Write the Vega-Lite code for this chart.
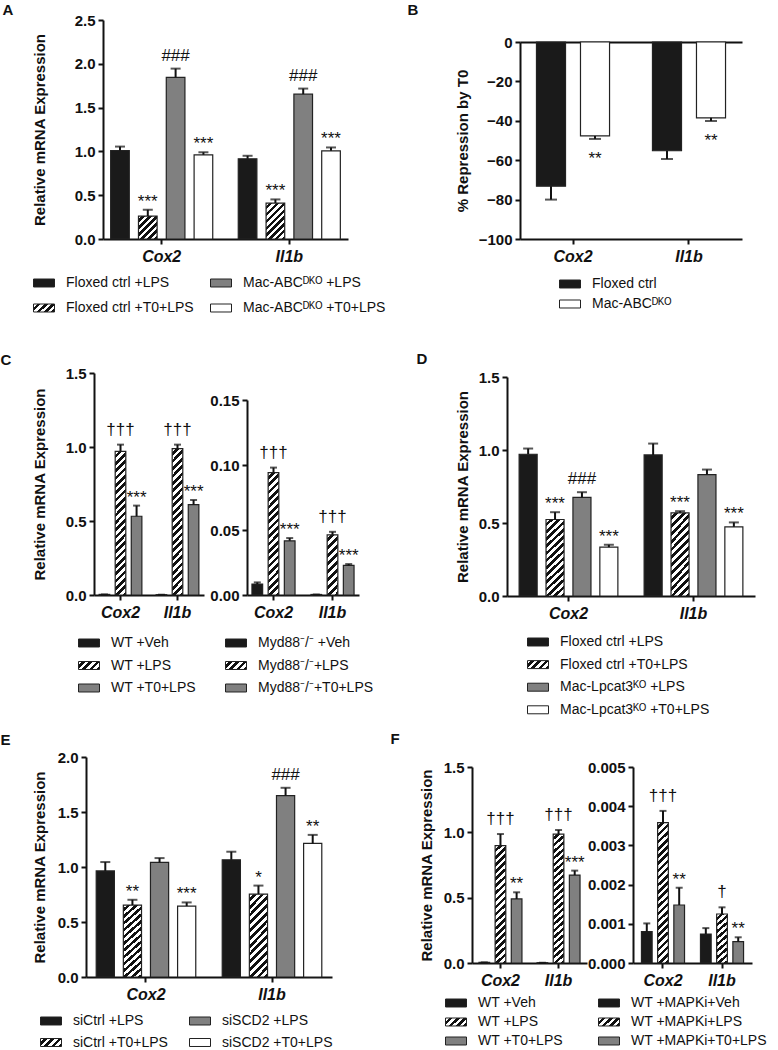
{
"$schema": "https://vega.github.io/schema/vega-lite/v6.json",
"width": 778, "height": 1050, "autosize": "none", "padding": 0, "background": "white",
"params": [
{"name":"G7","value":{"gradient":"linear","x1":0,"y1":0,"x2":1.206,"y2":0.459,"stops":[
{"offset":0.125,"color":"#fff"},{"offset":0.125,"color":"#111"},{"offset":0.25,"color":"#111"},{"offset":0.25,"color":"#fff"},
{"offset":0.375,"color":"#fff"},{"offset":0.375,"color":"#111"},{"offset":0.5,"color":"#111"},{"offset":0.5,"color":"#fff"},
{"offset":0.625,"color":"#fff"},{"offset":0.625,"color":"#111"},{"offset":0.75,"color":"#111"},{"offset":0.75,"color":"#fff"},
{"offset":0.875,"color":"#fff"},{"offset":0.875,"color":"#111"}]}},
{"name":"G1","value":{"gradient":"linear","x1":0,"y1":0,"x2":0.885,"y2":1.094,"stops":[
{"offset":0.0833,"color":"#fff"},{"offset":0.0833,"color":"#111"},{"offset":0.1667,"color":"#111"},{"offset":0.1667,"color":"#fff"},
{"offset":0.25,"color":"#fff"},{"offset":0.25,"color":"#111"},{"offset":0.3333,"color":"#111"},{"offset":0.3333,"color":"#fff"},
{"offset":0.4167,"color":"#fff"},{"offset":0.4167,"color":"#111"},{"offset":0.5,"color":"#111"},{"offset":0.5,"color":"#fff"},
{"offset":0.5833,"color":"#fff"},{"offset":0.5833,"color":"#111"},{"offset":0.6667,"color":"#111"},{"offset":0.6667,"color":"#fff"},
{"offset":0.75,"color":"#fff"},{"offset":0.75,"color":"#111"},{"offset":0.8333,"color":"#111"},{"offset":0.8333,"color":"#fff"},
{"offset":0.9167,"color":"#fff"},{"offset":0.9167,"color":"#111"}]}},
{"name":"G2","value":{"gradient":"linear","x1":0,"y1":0,"x2":0.619,"y2":1.197,"stops":[
{"offset":0.0625,"color":"#fff"},{"offset":0.0625,"color":"#111"},{"offset":0.125,"color":"#111"},{"offset":0.125,"color":"#fff"},
{"offset":0.1875,"color":"#fff"},{"offset":0.1875,"color":"#111"},{"offset":0.25,"color":"#111"},{"offset":0.25,"color":"#fff"},
{"offset":0.3125,"color":"#fff"},{"offset":0.3125,"color":"#111"},{"offset":0.375,"color":"#111"},{"offset":0.375,"color":"#fff"},
{"offset":0.4375,"color":"#fff"},{"offset":0.4375,"color":"#111"},{"offset":0.5,"color":"#111"},{"offset":0.5,"color":"#fff"},
{"offset":0.5625,"color":"#fff"},{"offset":0.5625,"color":"#111"},{"offset":0.625,"color":"#111"},{"offset":0.625,"color":"#fff"},
{"offset":0.6875,"color":"#fff"},{"offset":0.6875,"color":"#111"},{"offset":0.75,"color":"#111"},{"offset":0.75,"color":"#fff"},
{"offset":0.8125,"color":"#fff"},{"offset":0.8125,"color":"#111"},{"offset":0.875,"color":"#111"},{"offset":0.875,"color":"#fff"},
{"offset":0.9375,"color":"#fff"},{"offset":0.9375,"color":"#111"}]}},
{"name":"G5","value":{"gradient":"linear","x1":0,"y1":0,"x2":0.218,"y2":1.149,"stops":[
{"offset":0.0556,"color":"#fff"},{"offset":0.0556,"color":"#111"},{"offset":0.1111,"color":"#111"},{"offset":0.1111,"color":"#fff"},
{"offset":0.1667,"color":"#fff"},{"offset":0.1667,"color":"#111"},{"offset":0.2222,"color":"#111"},{"offset":0.2222,"color":"#fff"},
{"offset":0.2778,"color":"#fff"},{"offset":0.2778,"color":"#111"},{"offset":0.3333,"color":"#111"},{"offset":0.3333,"color":"#fff"},
{"offset":0.3889,"color":"#fff"},{"offset":0.3889,"color":"#111"},{"offset":0.4444,"color":"#111"},{"offset":0.4444,"color":"#fff"},
{"offset":0.5,"color":"#fff"},{"offset":0.5,"color":"#111"},{"offset":0.5556,"color":"#111"},{"offset":0.5556,"color":"#fff"},
{"offset":0.6111,"color":"#fff"},{"offset":0.6111,"color":"#111"},{"offset":0.6667,"color":"#111"},{"offset":0.6667,"color":"#fff"},
{"offset":0.7222,"color":"#fff"},{"offset":0.7222,"color":"#111"},{"offset":0.7778,"color":"#111"},{"offset":0.7778,"color":"#fff"},
{"offset":0.8333,"color":"#fff"},{"offset":0.8333,"color":"#111"},{"offset":0.8889,"color":"#111"},{"offset":0.8889,"color":"#fff"},
{"offset":0.9444,"color":"#fff"},{"offset":0.9444,"color":"#111"}]}},
{"name":"G6","value":{"gradient":"linear","x1":0,"y1":0,"x2":0.261,"y2":1.166,"stops":[
{"offset":0.0385,"color":"#fff"},{"offset":0.0385,"color":"#111"},{"offset":0.0769,"color":"#111"},{"offset":0.0769,"color":"#fff"},
{"offset":0.1154,"color":"#fff"},{"offset":0.1154,"color":"#111"},{"offset":0.1538,"color":"#111"},{"offset":0.1538,"color":"#fff"},
{"offset":0.1923,"color":"#fff"},{"offset":0.1923,"color":"#111"},{"offset":0.2308,"color":"#111"},{"offset":0.2308,"color":"#fff"},
{"offset":0.2692,"color":"#fff"},{"offset":0.2692,"color":"#111"},{"offset":0.3077,"color":"#111"},{"offset":0.3077,"color":"#fff"},
{"offset":0.3462,"color":"#fff"},{"offset":0.3462,"color":"#111"},{"offset":0.3846,"color":"#111"},{"offset":0.3846,"color":"#fff"},
{"offset":0.4231,"color":"#fff"},{"offset":0.4231,"color":"#111"},{"offset":0.4615,"color":"#111"},{"offset":0.4615,"color":"#fff"},
{"offset":0.5,"color":"#fff"},{"offset":0.5,"color":"#111"},{"offset":0.5385,"color":"#111"},{"offset":0.5385,"color":"#fff"},
{"offset":0.5769,"color":"#fff"},{"offset":0.5769,"color":"#111"},{"offset":0.6154,"color":"#111"},{"offset":0.6154,"color":"#fff"},
{"offset":0.6538,"color":"#fff"},{"offset":0.6538,"color":"#111"},{"offset":0.6923,"color":"#111"},{"offset":0.6923,"color":"#fff"},
{"offset":0.7308,"color":"#fff"},{"offset":0.7308,"color":"#111"},{"offset":0.7692,"color":"#111"},{"offset":0.7692,"color":"#fff"},
{"offset":0.8077,"color":"#fff"},{"offset":0.8077,"color":"#111"},{"offset":0.8462,"color":"#111"},{"offset":0.8462,"color":"#fff"},
{"offset":0.8846,"color":"#fff"},{"offset":0.8846,"color":"#111"},{"offset":0.9231,"color":"#111"},{"offset":0.9231,"color":"#fff"},
{"offset":0.9615,"color":"#fff"},{"offset":0.9615,"color":"#111"}]}},
{"name":"G4","value":{"gradient":"linear","x1":0,"y1":0,"x2":0.095,"y2":1.08,"stops":[
{"offset":0.0278,"color":"#fff"},{"offset":0.0278,"color":"#111"},{"offset":0.0556,"color":"#111"},{"offset":0.0556,"color":"#fff"},
{"offset":0.0833,"color":"#fff"},{"offset":0.0833,"color":"#111"},{"offset":0.1111,"color":"#111"},{"offset":0.1111,"color":"#fff"},
{"offset":0.1389,"color":"#fff"},{"offset":0.1389,"color":"#111"},{"offset":0.1667,"color":"#111"},{"offset":0.1667,"color":"#fff"},
{"offset":0.1944,"color":"#fff"},{"offset":0.1944,"color":"#111"},{"offset":0.2222,"color":"#111"},{"offset":0.2222,"color":"#fff"},
{"offset":0.25,"color":"#fff"},{"offset":0.25,"color":"#111"},{"offset":0.2778,"color":"#111"},{"offset":0.2778,"color":"#fff"},
{"offset":0.3056,"color":"#fff"},{"offset":0.3056,"color":"#111"},{"offset":0.3333,"color":"#111"},{"offset":0.3333,"color":"#fff"},
{"offset":0.3611,"color":"#fff"},{"offset":0.3611,"color":"#111"},{"offset":0.3889,"color":"#111"},{"offset":0.3889,"color":"#fff"},
{"offset":0.4167,"color":"#fff"},{"offset":0.4167,"color":"#111"},{"offset":0.4444,"color":"#111"},{"offset":0.4444,"color":"#fff"},
{"offset":0.4722,"color":"#fff"},{"offset":0.4722,"color":"#111"},{"offset":0.5,"color":"#111"},{"offset":0.5,"color":"#fff"},
{"offset":0.5278,"color":"#fff"},{"offset":0.5278,"color":"#111"},{"offset":0.5556,"color":"#111"},{"offset":0.5556,"color":"#fff"},
{"offset":0.5833,"color":"#fff"},{"offset":0.5833,"color":"#111"},{"offset":0.6111,"color":"#111"},{"offset":0.6111,"color":"#fff"},
{"offset":0.6389,"color":"#fff"},{"offset":0.6389,"color":"#111"},{"offset":0.6667,"color":"#111"},{"offset":0.6667,"color":"#fff"},
{"offset":0.6944,"color":"#fff"},{"offset":0.6944,"color":"#111"},{"offset":0.7222,"color":"#111"},{"offset":0.7222,"color":"#fff"},
{"offset":0.75,"color":"#fff"},{"offset":0.75,"color":"#111"},{"offset":0.7778,"color":"#111"},{"offset":0.7778,"color":"#fff"},
{"offset":0.8056,"color":"#fff"},{"offset":0.8056,"color":"#111"},{"offset":0.8333,"color":"#111"},{"offset":0.8333,"color":"#fff"},
{"offset":0.8611,"color":"#fff"},{"offset":0.8611,"color":"#111"},{"offset":0.8889,"color":"#111"},{"offset":0.8889,"color":"#fff"},
{"offset":0.9167,"color":"#fff"},{"offset":0.9167,"color":"#111"},{"offset":0.9444,"color":"#111"},{"offset":0.9444,"color":"#fff"},
{"offset":0.9722,"color":"#fff"},{"offset":0.9722,"color":"#111"}]}},
{"name":"G3","value":{"gradient":"linear","x1":0,"y1":0,"x2":0.08,"y2":1.069,"stops":[
{"offset":0.0238,"color":"#fff"},{"offset":0.0238,"color":"#111"},{"offset":0.0476,"color":"#111"},{"offset":0.0476,"color":"#fff"},
{"offset":0.0714,"color":"#fff"},{"offset":0.0714,"color":"#111"},{"offset":0.0952,"color":"#111"},{"offset":0.0952,"color":"#fff"},
{"offset":0.119,"color":"#fff"},{"offset":0.119,"color":"#111"},{"offset":0.1429,"color":"#111"},{"offset":0.1429,"color":"#fff"},
{"offset":0.1667,"color":"#fff"},{"offset":0.1667,"color":"#111"},{"offset":0.1905,"color":"#111"},{"offset":0.1905,"color":"#fff"},
{"offset":0.2143,"color":"#fff"},{"offset":0.2143,"color":"#111"},{"offset":0.2381,"color":"#111"},{"offset":0.2381,"color":"#fff"},
{"offset":0.2619,"color":"#fff"},{"offset":0.2619,"color":"#111"},{"offset":0.2857,"color":"#111"},{"offset":0.2857,"color":"#fff"},
{"offset":0.3095,"color":"#fff"},{"offset":0.3095,"color":"#111"},{"offset":0.3333,"color":"#111"},{"offset":0.3333,"color":"#fff"},
{"offset":0.3571,"color":"#fff"},{"offset":0.3571,"color":"#111"},{"offset":0.381,"color":"#111"},{"offset":0.381,"color":"#fff"},
{"offset":0.4048,"color":"#fff"},{"offset":0.4048,"color":"#111"},{"offset":0.4286,"color":"#111"},{"offset":0.4286,"color":"#fff"},
{"offset":0.4524,"color":"#fff"},{"offset":0.4524,"color":"#111"},{"offset":0.4762,"color":"#111"},{"offset":0.4762,"color":"#fff"},
{"offset":0.5,"color":"#fff"},{"offset":0.5,"color":"#111"},{"offset":0.5238,"color":"#111"},{"offset":0.5238,"color":"#fff"},
{"offset":0.5476,"color":"#fff"},{"offset":0.5476,"color":"#111"},{"offset":0.5714,"color":"#111"},{"offset":0.5714,"color":"#fff"},
{"offset":0.5952,"color":"#fff"},{"offset":0.5952,"color":"#111"},{"offset":0.619,"color":"#111"},{"offset":0.619,"color":"#fff"},
{"offset":0.6429,"color":"#fff"},{"offset":0.6429,"color":"#111"},{"offset":0.6667,"color":"#111"},{"offset":0.6667,"color":"#fff"},
{"offset":0.6905,"color":"#fff"},{"offset":0.6905,"color":"#111"},{"offset":0.7143,"color":"#111"},{"offset":0.7143,"color":"#fff"},
{"offset":0.7381,"color":"#fff"},{"offset":0.7381,"color":"#111"},{"offset":0.7619,"color":"#111"},{"offset":0.7619,"color":"#fff"},
{"offset":0.7857,"color":"#fff"},{"offset":0.7857,"color":"#111"},{"offset":0.8095,"color":"#111"},{"offset":0.8095,"color":"#fff"},
{"offset":0.8333,"color":"#fff"},{"offset":0.8333,"color":"#111"},{"offset":0.8571,"color":"#111"},{"offset":0.8571,"color":"#fff"},
{"offset":0.881,"color":"#fff"},{"offset":0.881,"color":"#111"},{"offset":0.9048,"color":"#111"},{"offset":0.9048,"color":"#fff"},
{"offset":0.9286,"color":"#fff"},{"offset":0.9286,"color":"#111"},{"offset":0.9524,"color":"#111"},{"offset":0.9524,"color":"#fff"},
{"offset":0.9762,"color":"#fff"},{"offset":0.9762,"color":"#111"}]}}
],
"config": {
  "view": {"stroke": null},
  "font": "Liberation Sans",
  "axis": {"domainColor": "#111", "domainWidth": 2, "tickColor": "#111", "tickWidth": 2, "tickSize": 5, "labelFont": "Liberation Sans", "labelFontSize": 15, "labelFontWeight": "bold", "labelColor": "#111", "titleFont": "Liberation Sans", "titleFontSize": 15, "titleFontWeight": "bold", "titleColor": "#111", "grid": false, "labelPadding": 3},
  "axisX": {"labelFontStyle": "italic", "labelFontSize": 16, "labelAngle": 0, "labelPadding": 4},
  "legend": {"labelFont": "Liberation Sans", "labelFontSize": 14, "labelColor": "#111", "symbolSize": 441, "symbolStrokeColor": "#222", "symbolStrokeWidth": 1, "labelOffset": 11, "padding": 0, "labelLimit": 400, "symbolOpacity": 1},
  "text": {"font": "Liberation Sans", "fontSize": 17, "color": "#111", "baseline": "alphabetic"}
},
"resolve": {"scale": {"x": "independent", "y": "independent", "xOffset": "independent", "fill": "independent"}, "axis": {"x": "independent", "y": "independent"}, "legend": {"fill": "independent"}},
"layer": [
{
 "data": {"values": [
  {"gene":"Cox2","grp":"Floxed ctrl +LPS","v":1.01,"hi":1.055,"s":""},
  {"gene":"Cox2","grp":"Floxed ctrl +T0+LPS","v":0.262,"hi":0.334,"s":"***"},
  {"gene":"Cox2","grp":"Mac-ABCᴰᴷᴼ +LPS","v":1.846,"hi":1.945,"s":"###"},
  {"gene":"Cox2","grp":"Mac-ABCᴰᴷᴼ +T0+LPS","v":0.961,"hi":0.99,"s":"***"},
  {"gene":"Il1b","grp":"Floxed ctrl +LPS","v":0.916,"hi":0.95,"s":""},
  {"gene":"Il1b","grp":"Floxed ctrl +T0+LPS","v":0.41,"hi":0.452,"s":"***"},
  {"gene":"Il1b","grp":"Mac-ABCᴰᴷᴼ +LPS","v":1.653,"hi":1.717,"s":"###"},
  {"gene":"Il1b","grp":"Mac-ABCᴰᴷᴼ +T0+LPS","v":1.007,"hi":1.045,"s":"***"}
 ]},
 "encoding": {
  "x": {"field":"gene","type":"nominal","scale":{"type":"band","domain":["Cox2","Il1b"],"range":[103,348],"paddingInner":0.2,"paddingOuter":0.06},"axis":{"orient":"bottom","offset":-811,"title":"A","titleX":2,"titleY":-237,"titleAngle":0,"titleAlign":"left","titleBaseline":"top"}},
  "xOffset": {"field":"grp","type":"nominal","scale":{"domain":["Floxed ctrl +LPS","Floxed ctrl +T0+LPS","Mac-ABCᴰᴷᴼ +LPS","Mac-ABCᴰᴷᴼ +T0+LPS"],"paddingInner":0.33,"paddingOuter":0}}
 },
 "layer": [
  {"mark": {"type":"bar","stroke":"#222","strokeWidth":1.2},
   "encoding": {
    "y": {"field":"v","type":"quantitative","scale":{"domain":[0,2.5],"range":[239,20],"nice":false},"axis":{"orient":"left","offset":-103,"values":[0,0.5,1,1.5,2,2.5],"format":".1f","title":"Relative mRNA Expression","titlePadding":27}},
    "fill": {"field":"grp","type":"nominal",
      "scale":{"domain":["Floxed ctrl +LPS","Floxed ctrl +T0+LPS","Mac-ABCᴰᴷᴼ +LPS","Mac-ABCᴰᴷᴼ +T0+LPS"],"range":["#1a1a1a",{"expr":"G7"},"#808080","#ffffff"]},
      "legend":{"orient":"none","legendX":33,"legendY":272,"columns":2,"columnPadding":14,"rowPadding":7,"title":null,"labelFontSize":14,"labelOffset":11,"symbolType":"M-1,-0.38H1V0.38H-1Z","symbolSize":441,"symbolStrokeColor":"#222"},
      "condition":[{"test":"datum.grp === 'Floxed ctrl +T0+LPS' && datum.gene === 'Cox2'","value":{"expr":"G1"}},{"test":"datum.grp === 'Floxed ctrl +T0+LPS'","value":{"expr":"G2"}}]}
   }},
  {"mark": {"type":"rule","strokeWidth":2,"color":"#111"}, "encoding": {"y":{"field":"v","type":"quantitative"},"y2":{"field":"hi"}}},
  {"mark": {"type":"tick","orient":"horizontal","size":10,"thickness":2,"color":"#111"}, "encoding": {"y":{"field":"hi","type":"quantitative"}}},
  {"transform":[{"filter":"indexof(datum.s,'*')>=0"}],"mark":{"type":"text","dy":-3},"encoding":{"y":{"field":"hi","type":"quantitative"},"text":{"field":"s"}}},
  {"transform":[{"filter":"indexof(datum.s,'#')>=0"}],"mark":{"type":"text","dy":-8},"encoding":{"y":{"field":"hi","type":"quantitative"},"text":{"field":"s"}}}
 ]
},
{
 "data": {"values": [
  {"gene":"Cox2","grp":"Floxed ctrl","v":-73.2,"hi":-80.0,"s":""},
  {"gene":"Cox2","grp":"Mac-ABCᴰᴷᴼ","v":-47.7,"hi":-49.2,"s":"**"},
  {"gene":"Il1b","grp":"Floxed ctrl","v":-55.2,"hi":-59.4,"s":""},
  {"gene":"Il1b","grp":"Mac-ABCᴰᴷᴼ","v":-38.5,"hi":-40.1,"s":"**"}
 ]},
 "encoding": {
  "x": {"field":"gene","type":"nominal","scale":{"type":"band","domain":["Cox2","Il1b"],"range":[520,742],"paddingInner":0.37,"paddingOuter":0.142},"axis":{"orient":"bottom","offset":-811,"title":"B","titleX":407,"titleY":-237,"titleAngle":0,"titleAlign":"left","titleBaseline":"top"}},
  "xOffset": {"field":"grp","type":"nominal","scale":{"domain":["Floxed ctrl","Mac-ABCᴰᴷᴼ"],"paddingInner":0.34,"paddingOuter":0}}
 },
 "layer": [
  {"mark": {"type":"bar","stroke":"#222","strokeWidth":1.2},
   "encoding": {
    "y": {"field":"v","type":"quantitative","scale":{"domain":[-100,0],"range":[239,42],"nice":false},"axis":{"orient":"left","offset":-520,"values":[0,-20,-40,-60,-80,-100],"format":"d","title":"% Repression by T0","titlePadding":8,"grid":true,"gridWidth":2,"gridColor":{"condition":{"test":"datum.value === 0","value":"#111"},"value":"transparent"}}},
    "fill": {"field":"grp","type":"nominal",
      "scale":{"domain":["Floxed ctrl","Mac-ABCᴰᴷᴼ"],"range":["#1a1a1a","#ffffff"]},
      "legend":{"orient":"none","legendX":559,"legendY":273,"columns":1,"rowPadding":2,"title":null,"labelFontSize":14,"labelOffset":11,"symbolType":"M-1,-0.38H1V0.38H-1Z","symbolSize":441,"symbolStrokeColor":"#222"}}
   }},
  {"mark": {"type":"rule","strokeWidth":2,"color":"#111"}, "encoding": {"y":{"field":"v","type":"quantitative"},"y2":{"field":"hi"}}},
  {"mark": {"type":"tick","orient":"horizontal","size":12,"thickness":2,"color":"#111"}, "encoding": {"y":{"field":"hi","type":"quantitative"}}},
  {"transform":[{"filter":"indexof(datum.s,'*')>=0"}],"mark":{"type":"text","dy":25},"encoding":{"y":{"field":"hi","type":"quantitative"},"text":{"field":"s"}}}
 ]
},
{
 "data": {"values": [
  {"gene":"Cox2","grp":"WT +Veh","v":0.004,"hi":0.004,"s":""},
  {"gene":"Cox2","grp":"WT +LPS","v":0.971,"hi":1.016,"s":"†††"},
  {"gene":"Cox2","grp":"WT +T0+LPS","v":0.532,"hi":0.604,"s":"***"},
  {"gene":"Il1b","grp":"WT +Veh","v":0.002,"hi":0.002,"s":""},
  {"gene":"Il1b","grp":"WT +LPS","v":0.989,"hi":1.016,"s":"†††"},
  {"gene":"Il1b","grp":"WT +T0+LPS","v":0.61,"hi":0.642,"s":"***"}
 ]},
 "encoding": {
  "x": {"field":"gene","type":"nominal","scale":{"type":"band","domain":["Cox2","Il1b"],"range":[94,204],"paddingInner":0.25,"paddingOuter":0.09},"axis":{"orient":"bottom","offset":-455,"title":"C","titleX":0,"titleY":-243,"titleAngle":0,"titleAlign":"left","titleBaseline":"top"}},
  "xOffset": {"field":"grp","type":"nominal","scale":{"domain":["WT +Veh","WT +LPS","WT +T0+LPS"],"paddingInner":0.34,"paddingOuter":0}}
 },
 "layer": [
  {"mark": {"type":"bar","stroke":"#222","strokeWidth":1.2},
   "encoding": {
    "y": {"field":"v","type":"quantitative","scale":{"domain":[0,1.5],"range":[595,373],"nice":false},"axis":{"orient":"left","offset":-94,"values":[0,0.5,1,1.5],"format":".1f","title":"Relative mRNA Expression","titlePadding":18}},
    "fill": {"field":"grp","type":"nominal",
      "scale":{"domain":["WT +Veh","WT +LPS","WT +T0+LPS"],"range":["#1a1a1a",{"expr":"G7"},"#808080"]},
      "legend":{"orient":"none","legendX":78,"legendY":632,"columns":1,"rowPadding":4.5,"title":null,"labelFontSize":14,"labelOffset":11,"symbolType":"M-1,-0.38H1V0.38H-1Z","symbolSize":441,"symbolStrokeColor":"#222"},
      "condition":[{"test":"datum.grp === 'WT +LPS'","value":{"expr":"G3"}}]}
   }},
  {"mark": {"type":"rule","strokeWidth":2,"color":"#111"}, "encoding": {"y":{"field":"v","type":"quantitative"},"y2":{"field":"hi"}}},
  {"mark": {"type":"tick","orient":"horizontal","size":7,"thickness":2,"color":"#111"}, "encoding": {"y":{"field":"hi","type":"quantitative"}}},
  {"transform":[{"filter":"indexof(datum.s,'*')>=0"}],"mark":{"type":"text","dy":-3},"encoding":{"y":{"field":"hi","type":"quantitative"},"text":{"field":"s"}}},
  {"transform":[{"filter":"indexof(datum.s,'†')>=0"}],"mark":{"type":"text","dy":-10},"encoding":{"y":{"field":"hi","type":"quantitative"},"text":{"field":"s"}}}
 ]
},
{
 "data": {"values": [
  {"gene":"Cox2","grp":"Myd88⁻/⁻ +Veh","v":0.0084,"hi":0.0097,"s":""},
  {"gene":"Cox2","grp":"Myd88⁻/⁻+LPS","v":0.0942,"hi":0.098,"s":"†††"},
  {"gene":"Cox2","grp":"Myd88⁻/⁻+T0+LPS","v":0.0417,"hi":0.0438,"s":"***"},
  {"gene":"Il1b","grp":"Myd88⁻/⁻ +Veh","v":0.0004,"hi":0.0004,"s":""},
  {"gene":"Il1b","grp":"Myd88⁻/⁻+LPS","v":0.0463,"hi":0.0486,"s":"†††"},
  {"gene":"Il1b","grp":"Myd88⁻/⁻+T0+LPS","v":0.0228,"hi":0.0238,"s":"***"}
 ]},
 "encoding": {
  "x": {"field":"gene","type":"nominal","scale":{"type":"band","domain":["Cox2","Il1b"],"range":[247,359],"paddingInner":0.27,"paddingOuter":0.084},"axis":{"orient":"bottom","offset":-455,"title":null}},
  "xOffset": {"field":"grp","type":"nominal","scale":{"domain":["Myd88⁻/⁻ +Veh","Myd88⁻/⁻+LPS","Myd88⁻/⁻+T0+LPS"],"paddingInner":0.34,"paddingOuter":0}}
 },
 "layer": [
  {"mark": {"type":"bar","stroke":"#222","strokeWidth":1.2},
   "encoding": {
    "y": {"field":"v","type":"quantitative","scale":{"domain":[0,0.15],"range":[595,400],"nice":false},"axis":{"orient":"left","offset":-247,"values":[0,0.05,0.1,0.15],"format":".2f","title":null}},
    "fill": {"field":"grp","type":"nominal",
      "scale":{"domain":["Myd88⁻/⁻ +Veh","Myd88⁻/⁻+LPS","Myd88⁻/⁻+T0+LPS"],"range":["#1a1a1a",{"expr":"G7"},"#808080"]},
      "legend":{"orient":"none","legendX":225,"legendY":632,"columns":1,"rowPadding":4.5,"title":null,"labelFontSize":14,"labelOffset":11,"symbolType":"M-1,-0.38H1V0.38H-1Z","symbolSize":441,"symbolStrokeColor":"#222"},
      "condition":[{"test":"datum.grp === 'Myd88⁻/⁻+LPS' && datum.gene === 'Cox2'","value":{"expr":"G4"}},{"test":"datum.grp === 'Myd88⁻/⁻+LPS'","value":{"expr":"G5"}}]}
   }},
  {"mark": {"type":"rule","strokeWidth":2,"color":"#111"}, "encoding": {"y":{"field":"v","type":"quantitative"},"y2":{"field":"hi"}}},
  {"mark": {"type":"tick","orient":"horizontal","size":7,"thickness":2,"color":"#111"}, "encoding": {"y":{"field":"hi","type":"quantitative"}}},
  {"transform":[{"filter":"indexof(datum.s,'*')>=0"}],"mark":{"type":"text","dy":-3},"encoding":{"y":{"field":"hi","type":"quantitative"},"text":{"field":"s"}}},
  {"transform":[{"filter":"indexof(datum.s,'†')>=0"}],"mark":{"type":"text","dy":-10},"encoding":{"y":{"field":"hi","type":"quantitative"},"text":{"field":"s"}}}
 ]
},
{
 "data": {"values": [
  {"gene":"Cox2","grp":"Floxed ctrl +LPS","v":0.971,"hi":1.01,"s":""},
  {"gene":"Cox2","grp":"Floxed ctrl +T0+LPS","v":0.524,"hi":0.574,"s":"***"},
  {"gene":"Cox2","grp":"Mac-Lpcat3ᴷᴼ +LPS","v":0.675,"hi":0.711,"s":"###"},
  {"gene":"Cox2","grp":"Mac-Lpcat3ᴷᴼ +T0+LPS","v":0.335,"hi":0.351,"s":"***"},
  {"gene":"Il1b","grp":"Floxed ctrl +LPS","v":0.966,"hi":1.044,"s":""},
  {"gene":"Il1b","grp":"Floxed ctrl +T0+LPS","v":0.57,"hi":0.581,"s":"***"},
  {"gene":"Il1b","grp":"Mac-Lpcat3ᴷᴼ +LPS","v":0.832,"hi":0.866,"s":""},
  {"gene":"Il1b","grp":"Mac-Lpcat3ᴷᴼ +T0+LPS","v":0.474,"hi":0.504,"s":"***"}
 ]},
 "encoding": {
  "x": {"field":"gene","type":"nominal","scale":{"type":"band","domain":["Cox2","Il1b"],"range":[507,755],"paddingInner":0.21,"paddingOuter":0.097},"axis":{"orient":"bottom","offset":-454,"title":"D","titleX":416,"titleY":-245,"titleAngle":0,"titleAlign":"left","titleBaseline":"top"}},
  "xOffset": {"field":"grp","type":"nominal","scale":{"domain":["Floxed ctrl +LPS","Floxed ctrl +T0+LPS","Mac-Lpcat3ᴷᴼ +LPS","Mac-Lpcat3ᴷᴼ +T0+LPS"],"paddingInner":0.33,"paddingOuter":0}}
 },
 "layer": [
  {"mark": {"type":"bar","stroke":"#222","strokeWidth":1.2},
   "encoding": {
    "y": {"field":"v","type":"quantitative","scale":{"domain":[0,1.5],"range":[596,377],"nice":false},"axis":{"orient":"left","offset":-507,"values":[0,0.5,1,1.5],"format":".1f","title":"Relative mRNA Expression","titlePadding":8}},
    "fill": {"field":"grp","type":"nominal",
      "scale":{"domain":["Floxed ctrl +LPS","Floxed ctrl +T0+LPS","Mac-Lpcat3ᴷᴼ +LPS","Mac-Lpcat3ᴷᴼ +T0+LPS"],"range":["#1a1a1a",{"expr":"G7"},"#808080","#ffffff"]},
      "legend":{"orient":"none","legendX":527,"legendY":631,"columns":1,"rowPadding":4.6,"title":null,"labelFontSize":14,"labelOffset":11,"symbolType":"M-1,-0.38H1V0.38H-1Z","symbolSize":441,"symbolStrokeColor":"#222"},
      "condition":[{"test":"datum.grp === 'Floxed ctrl +T0+LPS'","value":{"expr":"G6"}}]}
   }},
  {"mark": {"type":"rule","strokeWidth":2,"color":"#111"}, "encoding": {"y":{"field":"v","type":"quantitative"},"y2":{"field":"hi"}}},
  {"mark": {"type":"tick","orient":"horizontal","size":10,"thickness":2,"color":"#111"}, "encoding": {"y":{"field":"hi","type":"quantitative"}}},
  {"transform":[{"filter":"indexof(datum.s,'*')>=0"}],"mark":{"type":"text","dy":-3},"encoding":{"y":{"field":"hi","type":"quantitative"},"text":{"field":"s"}}},
  {"transform":[{"filter":"indexof(datum.s,'#')>=0"}],"mark":{"type":"text","dy":-8},"encoding":{"y":{"field":"hi","type":"quantitative"},"text":{"field":"s"}}}
 ]
},
{
 "data": {"values": [
  {"gene":"Cox2","grp":"siCtrl +LPS","v":0.964,"hi":1.045,"s":""},
  {"gene":"Cox2","grp":"siCtrl +T0+LPS","v":0.654,"hi":0.702,"s":"**"},
  {"gene":"Cox2","grp":"siSCD2 +LPS","v":1.042,"hi":1.081,"s":""},
  {"gene":"Cox2","grp":"siSCD2 +T0+LPS","v":0.645,"hi":0.678,"s":"***"},
  {"gene":"Il1b","grp":"siCtrl +LPS","v":1.066,"hi":1.139,"s":""},
  {"gene":"Il1b","grp":"siCtrl +T0+LPS","v":0.753,"hi":0.831,"s":"*"},
  {"gene":"Il1b","grp":"siSCD2 +LPS","v":1.648,"hi":1.72,"s":"###"},
  {"gene":"Il1b","grp":"siSCD2 +T0+LPS","v":1.214,"hi":1.292,"s":"**"}
 ]},
 "encoding": {
  "x": {"field":"gene","type":"nominal","scale":{"type":"band","domain":["Cox2","Il1b"],"range":[86,332],"paddingInner":0.21,"paddingOuter":0.081},"axis":{"orient":"bottom","offset":-73,"title":"E","titleX":0,"titleY":-245,"titleAngle":0,"titleAlign":"left","titleBaseline":"top"}},
  "xOffset": {"field":"grp","type":"nominal","scale":{"domain":["siCtrl +LPS","siCtrl +T0+LPS","siSCD2 +LPS","siSCD2 +T0+LPS"],"paddingInner":0.33,"paddingOuter":0}}
 },
 "layer": [
  {"mark": {"type":"bar","stroke":"#222","strokeWidth":1.2},
   "encoding": {
    "y": {"field":"v","type":"quantitative","scale":{"domain":[0,2],"range":[977,757],"nice":false},"axis":{"orient":"left","offset":-86,"values":[0,0.5,1,1.5,2],"format":".1f","title":"Relative mRNA Expression","titlePadding":10}},
    "fill": {"field":"grp","type":"nominal",
      "scale":{"domain":["siCtrl +LPS","siCtrl +T0+LPS","siSCD2 +LPS","siSCD2 +T0+LPS"],"range":["#1a1a1a",{"expr":"G7"},"#808080","#ffffff"]},
      "legend":{"orient":"none","legendX":40,"legendY":1010,"columns":2,"columnPadding":19,"rowPadding":3.5,"title":null,"labelFontSize":14,"labelOffset":11,"symbolType":"M-1,-0.38H1V0.38H-1Z","symbolSize":441,"symbolStrokeColor":"#222"},
      "condition":[{"test":"datum.grp === 'siCtrl +T0+LPS'","value":{"expr":"G6"}}]}
   }},
  {"mark": {"type":"rule","strokeWidth":2,"color":"#111"}, "encoding": {"y":{"field":"v","type":"quantitative"},"y2":{"field":"hi"}}},
  {"mark": {"type":"tick","orient":"horizontal","size":10,"thickness":2,"color":"#111"}, "encoding": {"y":{"field":"hi","type":"quantitative"}}},
  {"transform":[{"filter":"indexof(datum.s,'*')>=0"}],"mark":{"type":"text","dy":-3},"encoding":{"y":{"field":"hi","type":"quantitative"},"text":{"field":"s"}}},
  {"transform":[{"filter":"indexof(datum.s,'#')>=0"}],"mark":{"type":"text","dy":-8},"encoding":{"y":{"field":"hi","type":"quantitative"},"text":{"field":"s"}}}
 ]
},
{
 "data": {"values": [
  {"gene":"Cox2","grp":"WT +Veh","v":0.005,"hi":0.005,"s":""},
  {"gene":"Cox2","grp":"WT +LPS","v":0.898,"hi":0.987,"s":"†††"},
  {"gene":"Cox2","grp":"WT +T0+LPS","v":0.49,"hi":0.541,"s":"**"},
  {"gene":"Il1b","grp":"WT +Veh","v":0.002,"hi":0.002,"s":""},
  {"gene":"Il1b","grp":"WT +LPS","v":0.987,"hi":1.018,"s":"†††"},
  {"gene":"Il1b","grp":"WT +T0+LPS","v":0.673,"hi":0.707,"s":"***"}
 ]},
 "encoding": {
  "x": {"field":"gene","type":"nominal","scale":{"type":"band","domain":["Cox2","Il1b"],"range":[472,587],"paddingInner":0.26,"paddingOuter":0.12},"axis":{"orient":"bottom","offset":-87,"title":"F","titleX":390,"titleY":-232,"titleAngle":0,"titleAlign":"left","titleBaseline":"top"}},
  "xOffset": {"field":"grp","type":"nominal","scale":{"domain":["WT +Veh","WT +LPS","WT +T0+LPS"],"paddingInner":0.34,"paddingOuter":0}}
 },
 "layer": [
  {"mark": {"type":"bar","stroke":"#222","strokeWidth":1.2},
   "encoding": {
    "y": {"field":"v","type":"quantitative","scale":{"domain":[0,1.5],"range":[963,767],"nice":false},"axis":{"orient":"left","offset":-472,"values":[0,0.5,1,1.5],"format":".1f","title":"Relative mRNA Expression","titlePadding":9}},
    "fill": {"field":"grp","type":"nominal",
      "scale":{"domain":["WT +Veh","WT +LPS","WT +T0+LPS"],"range":["#1a1a1a",{"expr":"G7"},"#808080"]},
      "legend":{"orient":"none","legendX":445,"legendY":992,"columns":1,"rowPadding":1,"title":null,"labelFontSize":14,"labelOffset":11,"symbolType":"M-1,-0.38H1V0.38H-1Z","symbolSize":441,"symbolStrokeColor":"#222"},
      "condition":[{"test":"datum.grp === 'WT +LPS' && datum.gene === 'Cox2'","value":{"expr":"G4"}},{"test":"datum.grp === 'WT +LPS'","value":{"expr":"G3"}}]}
   }},
  {"mark": {"type":"rule","strokeWidth":2,"color":"#111"}, "encoding": {"y":{"field":"v","type":"quantitative"},"y2":{"field":"hi"}}},
  {"mark": {"type":"tick","orient":"horizontal","size":7,"thickness":2,"color":"#111"}, "encoding": {"y":{"field":"hi","type":"quantitative"}}},
  {"transform":[{"filter":"indexof(datum.s,'*')>=0"}],"mark":{"type":"text","dy":-3},"encoding":{"y":{"field":"hi","type":"quantitative"},"text":{"field":"s"}}},
  {"transform":[{"filter":"indexof(datum.s,'†')>=0"}],"mark":{"type":"text","dy":-10},"encoding":{"y":{"field":"hi","type":"quantitative"},"text":{"field":"s"}}}
 ]
},
{
 "data": {"values": [
  {"gene":"Cox2","grp":"WT +MAPKi+Veh","v":0.0008,"hi":0.00101,"s":""},
  {"gene":"Cox2","grp":"WT +MAPKi+LPS","v":0.00358,"hi":0.00388,"s":"†††"},
  {"gene":"Cox2","grp":"WT +MAPKi+T0+LPS","v":0.00148,"hi":0.00192,"s":"**"},
  {"gene":"Il1b","grp":"WT +MAPKi+Veh","v":0.00074,"hi":0.00089,"s":""},
  {"gene":"Il1b","grp":"WT +MAPKi+LPS","v":0.00125,"hi":0.00142,"s":"†"},
  {"gene":"Il1b","grp":"WT +MAPKi+T0+LPS","v":0.000545,"hi":0.000656,"s":"**"}
 ]},
 "encoding": {
  "x": {"field":"gene","type":"nominal","scale":{"type":"band","domain":["Cox2","Il1b"],"range":[633,752],"paddingInner":0.27,"paddingOuter":0.143},"axis":{"orient":"bottom","offset":-87,"title":null}},
  "xOffset": {"field":"grp","type":"nominal","scale":{"domain":["WT +MAPKi+Veh","WT +MAPKi+LPS","WT +MAPKi+T0+LPS"],"paddingInner":0.34,"paddingOuter":0}}
 },
 "layer": [
  {"mark": {"type":"bar","stroke":"#222","strokeWidth":1.2},
   "encoding": {
    "y": {"field":"v","type":"quantitative","scale":{"domain":[0,0.005],"range":[963,767],"nice":false},"axis":{"orient":"left","offset":-633,"values":[0,0.001,0.002,0.003,0.004,0.005],"format":".3f","title":null}},
    "fill": {"field":"grp","type":"nominal",
      "scale":{"domain":["WT +MAPKi+Veh","WT +MAPKi+LPS","WT +MAPKi+T0+LPS"],"range":["#1a1a1a",{"expr":"G7"},"#808080"]},
      "legend":{"orient":"none","legendX":598,"legendY":992,"columns":1,"rowPadding":1,"title":null,"labelFontSize":14,"labelOffset":11,"symbolType":"M-1,-0.38H1V0.38H-1Z","symbolSize":441,"symbolStrokeColor":"#222"},
      "condition":[{"test":"datum.grp === 'WT +MAPKi+LPS' && datum.gene === 'Cox2'","value":{"expr":"G3"}},{"test":"datum.grp === 'WT +MAPKi+LPS'","value":{"expr":"G5"}}]}
   }},
  {"mark": {"type":"rule","strokeWidth":2,"color":"#111"}, "encoding": {"y":{"field":"v","type":"quantitative"},"y2":{"field":"hi"}}},
  {"mark": {"type":"tick","orient":"horizontal","size":7,"thickness":2,"color":"#111"}, "encoding": {"y":{"field":"hi","type":"quantitative"}}},
  {"transform":[{"filter":"indexof(datum.s,'*')>=0"}],"mark":{"type":"text","dy":-3},"encoding":{"y":{"field":"hi","type":"quantitative"},"text":{"field":"s"}}},
  {"transform":[{"filter":"indexof(datum.s,'†')>=0"}],"mark":{"type":"text","dy":-10},"encoding":{"y":{"field":"hi","type":"quantitative"},"text":{"field":"s"}}}
 ]
}
]
}
